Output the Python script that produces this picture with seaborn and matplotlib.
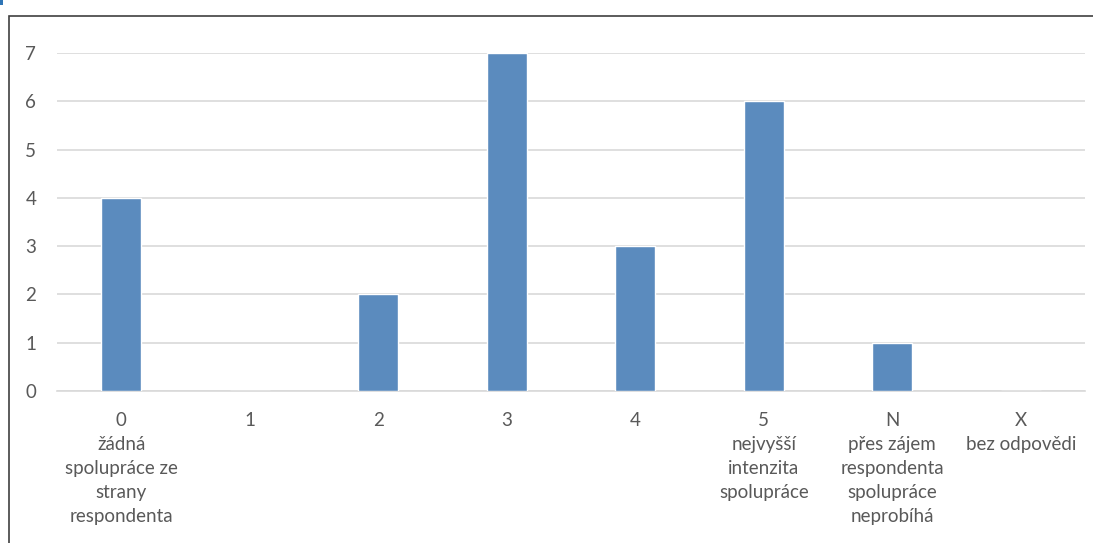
import matplotlib
matplotlib.use("Agg")
import matplotlib.pyplot as plt
from matplotlib.patches import Rectangle
import seaborn as sns
import pandas as pd

categories = ["0", "1", "2", "3", "4", "5", "N", "X"]
counts = [4, 0, 2, 7, 3, 6, 1, 0]
tick_labels = [
    "0\nžádná\nspolupráce ze\nstrany\nrespondenta",
    "1",
    "2",
    "3",
    "4",
    "5\nnejvyšší\nintenzita\nspolupráce",
    "N\npřes zájem\nrespondenta\nspolupráce\nneprobíhá",
    "X\nbez odpovědi",
]
y_ticks = [0, 1, 2, 3, 4, 5, 6, 7]

sns.set_style("white")
plt.rcParams["font.family"] = ["Lato", "DejaVu Sans"]

df = pd.DataFrame({"cat": categories, "n": counts})

fig = plt.figure(figsize=(10.93, 5.43), dpi=100)
ax = fig.add_axes([57 / 1093, 1 - 391 / 543, (1085 - 57) / 1093, (391 - 53) / 543])

sns.barplot(data=df, x="cat", y="n", color="#5B8BBE", width=0.31,
            saturation=1, ax=ax, zorder=3)

ax.set_ylim(0, 7)
ax.set_xlim(-0.5, 7.5)
ax.set_yticks(y_ticks)
ax.set_yticklabels([str(v) for v in y_ticks])
ax.set_xticks(range(len(categories)))
ax.set_xticklabels(tick_labels, linespacing=1.5, va="top")
ax.tick_params(axis="both", length=0, labelsize=13.5, labelcolor="#595959")
ax.tick_params(axis="y", pad=15)
ax.tick_params(axis="x", pad=15)
ax.set_xlabel("")
ax.set_ylabel("")
ax.yaxis.grid(True, color="#D9D9D9", linewidth=1.2, zorder=0)
ax.set_axisbelow(True)
for s in ["top", "right", "left"]:
    ax.spines[s].set_visible(False)
ax.spines["bottom"].set_color("#D9D9D9")
ax.spines["bottom"].set_linewidth(1.2)

# outer frame of the chart object
fig.add_artist(Rectangle((9 / 1093, -0.1), 1.2, 1 - 16 / 543 + 0.1,
                         transform=fig.transFigure, fill=False,
                         edgecolor="#404040", linewidth=1.2, clip_on=False))
fig.add_artist(Rectangle((0, 1 - 5 / 543), 3 / 1093, 5 / 543,
                         transform=fig.transFigure, facecolor="#2E75B6",
                         edgecolor="none", clip_on=False))

fig.savefig("out.png", dpi=100)
